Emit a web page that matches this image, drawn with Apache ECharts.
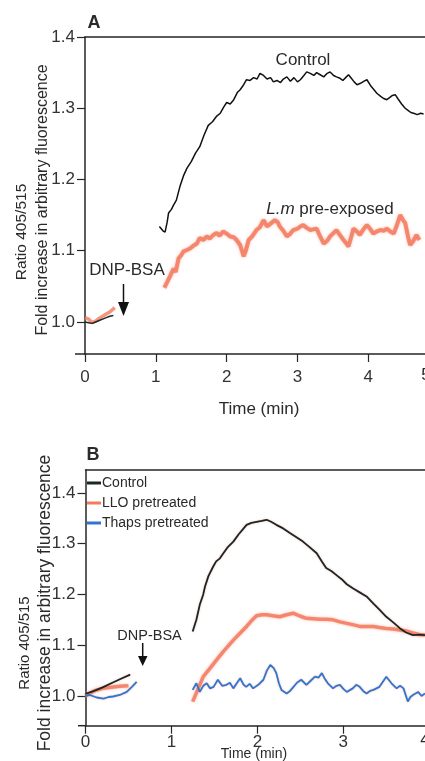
<!DOCTYPE html>
<html>
<head>
<meta charset="utf-8">
<script src="https://cdn.jsdelivr.net/npm/echarts@6/dist/echarts.min.js"></script>
<style>html,body{margin:0;padding:0;background:#fff}#c{width:425px;height:761px}</style>
</head>
<body>
<div id="c"></div>
<script>
// ---------- Panel A data ([time (min), ratio]) ----------
const aTicksY = [1.0, 1.1, 1.2, 1.3, 1.4];
const aControlEarly = [[0,1.0],[0.05,0.999],[0.1,0.998],[0.15,1.0],[0.2,1.002],[0.25,1.004],[0.3,1.006],[0.35,1.008],[0.4,1.009]];
const aLmEarly = [[0,1.006],[0.05,1.004],[0.1,0.999],[0.15,1.001],[0.2,1.005],[0.25,1.008],[0.3,1.011],[0.35,1.014],[0.42,1.02]];
const aControl = [[1.05,1.134],[1.1,1.128],[1.13,1.126],[1.16,1.14],[1.18,1.153],[1.22,1.158],[1.25,1.164],[1.29,1.171],[1.34,1.19],[1.39,1.205],[1.44,1.216],[1.5,1.225],[1.56,1.237],[1.62,1.246],[1.68,1.262],[1.74,1.276],[1.8,1.281],[1.86,1.289],[1.91,1.293],[1.96,1.302],[2.0,1.308],[2.05,1.306],[2.1,1.312],[2.15,1.322],[2.19,1.326],[2.24,1.333],[2.28,1.34],[2.33,1.339],[2.38,1.343],[2.43,1.341],[2.47,1.349],[2.52,1.346],[2.57,1.341],[2.62,1.343],[2.66,1.337],[2.71,1.339],[2.76,1.336],[2.8,1.341],[2.85,1.344],[2.9,1.338],[2.95,1.343],[3.0,1.337],[3.04,1.34],[3.09,1.346],[3.13,1.351],[3.18,1.349],[3.23,1.346],[3.27,1.35],[3.32,1.347],[3.37,1.344],[3.42,1.349],[3.46,1.351],[3.51,1.346],[3.55,1.344],[3.6,1.342],[3.64,1.339],[3.68,1.343],[3.72,1.347],[3.76,1.342],[3.8,1.337],[3.84,1.333],[3.89,1.335],[3.94,1.338],[3.98,1.34],[4.03,1.332],[4.08,1.326],[4.12,1.321],[4.17,1.317],[4.21,1.314],[4.26,1.312],[4.3,1.315],[4.34,1.318],[4.38,1.319],[4.42,1.313],[4.47,1.306],[4.52,1.3],[4.56,1.297],[4.6,1.294],[4.64,1.293],[4.69,1.291],[4.74,1.293],[4.78,1.292]];
const aLm = [[1.12,1.048],[1.16,1.056],[1.2,1.064],[1.25,1.075],[1.28,1.07],[1.32,1.089],[1.36,1.094],[1.39,1.099],[1.44,1.101],[1.48,1.103],[1.53,1.107],[1.58,1.11],[1.62,1.118],[1.67,1.115],[1.72,1.12],[1.76,1.117],[1.81,1.122],[1.86,1.125],[1.9,1.121],[1.95,1.127],[2.0,1.124],[2.05,1.12],[2.1,1.119],[2.14,1.115],[2.19,1.108],[2.24,1.092],[2.27,1.1],[2.31,1.115],[2.36,1.12],[2.42,1.129],[2.47,1.133],[2.52,1.143],[2.57,1.134],[2.62,1.138],[2.68,1.143],[2.72,1.14],[2.75,1.134],[2.8,1.128],[2.85,1.12],[2.9,1.124],[2.94,1.129],[3.0,1.131],[3.04,1.134],[3.08,1.136],[3.13,1.132],[3.18,1.129],[3.22,1.13],[3.27,1.131],[3.32,1.12],[3.37,1.11],[3.42,1.114],[3.46,1.12],[3.5,1.124],[3.55,1.129],[3.6,1.122],[3.65,1.115],[3.69,1.11],[3.72,1.106],[3.76,1.12],[3.79,1.131],[3.84,1.127],[3.88,1.122],[3.93,1.13],[3.98,1.136],[4.03,1.13],[4.07,1.124],[4.12,1.127],[4.17,1.129],[4.22,1.128],[4.26,1.131],[4.31,1.127],[4.36,1.124],[4.4,1.135],[4.45,1.15],[4.49,1.143],[4.52,1.139],[4.56,1.12],[4.59,1.108],[4.63,1.113],[4.68,1.122],[4.72,1.115]];

// ---------- Panel B data ----------
const bTicksY = [1.0, 1.1, 1.2, 1.3, 1.4];
const bNames = ['Control', 'LLO pretreated', 'Thaps pretreated'];
const bControlEarly = [[0,1.004],[0.1,1.01],[0.2,1.017],[0.3,1.025],[0.4,1.033],[0.52,1.042]];
const bControl = [[1.247,1.127],[1.29,1.15],[1.33,1.18],[1.37,1.2],[1.39,1.215],[1.43,1.236],[1.486,1.255],[1.52,1.265],[1.564,1.271],[1.6,1.28],[1.65,1.292],[1.72,1.304],[1.78,1.318],[1.83,1.328],[1.874,1.337],[1.93,1.341],[1.99,1.343],[2.05,1.345],[2.107,1.347],[2.16,1.343],[2.22,1.337],[2.3,1.33],[2.378,1.321],[2.45,1.313],[2.53,1.304],[2.6,1.294],[2.69,1.281],[2.75,1.265],[2.8,1.252],[2.86,1.246],[2.92,1.238],[2.98,1.23],[3.04,1.22],[3.11,1.212],[3.19,1.204],[3.27,1.196],[3.35,1.182],[3.42,1.17],[3.5,1.156],[3.58,1.145],[3.66,1.133],[3.73,1.125],[3.81,1.12],[3.88,1.121],[3.95,1.12]];
const bLloEarly = [[0,1.0],[0.1,1.01],[0.2,1.015],[0.3,1.017],[0.4,1.019],[0.5,1.02]];
const bLlo = [[1.247,0.989],[1.3,1.01],[1.37,1.038],[1.45,1.055],[1.525,1.071],[1.6,1.087],[1.72,1.11],[1.8,1.124],[1.874,1.137],[1.93,1.148],[1.99,1.158],[2.05,1.16],[2.107,1.16],[2.18,1.158],[2.26,1.156],[2.34,1.16],[2.416,1.163],[2.5,1.157],[2.57,1.153],[2.65,1.152],[2.73,1.151],[2.8,1.151],[2.88,1.15],[2.96,1.146],[3.04,1.143],[3.12,1.14],[3.19,1.137],[3.27,1.137],[3.35,1.137],[3.42,1.135],[3.5,1.133],[3.58,1.132],[3.66,1.13],[3.73,1.128],[3.81,1.124],[3.88,1.121],[3.95,1.12]];
const bThapsEarly = [[0,1.0],[0.05,1.002],[0.13,0.997],[0.21,0.995],[0.27,0.998],[0.32,0.999],[0.4,1.002],[0.48,1.008],[0.54,1.018],[0.595,1.028]];
const bThaps = [[1.247,1.012],[1.29,1.025],[1.33,1.008],[1.37,1.02],[1.41,1.025],[1.45,1.015],[1.49,1.018],[1.54,1.032],[1.59,1.02],[1.64,1.022],[1.68,1.026],[1.72,1.015],[1.76,1.025],[1.8,1.035],[1.84,1.022],[1.87,1.018],[1.91,1.024],[1.95,1.015],[2.01,1.022],[2.07,1.032],[2.11,1.05],[2.15,1.061],[2.19,1.055],[2.22,1.045],[2.25,1.025],[2.28,1.012],[2.34,1.005],[2.38,1.01],[2.42,1.018],[2.46,1.026],[2.51,1.032],[2.57,1.022],[2.62,1.03],[2.67,1.038],[2.71,1.036],[2.75,1.045],[2.78,1.035],[2.82,1.025],[2.88,1.015],[2.92,1.02],[2.96,1.022],[3.0,1.014],[3.04,1.008],[3.08,1.012],[3.11,1.015],[3.15,1.022],[3.19,1.018],[3.23,1.01],[3.27,1.005],[3.31,1.01],[3.35,1.012],[3.42,1.018],[3.46,1.028],[3.5,1.038],[3.56,1.025],[3.62,1.015],[3.66,1.02],[3.7,1.015],[3.75,0.989],[3.78,0.998],[3.81,1.002],[3.87,1.008],[3.91,1.0],[3.95,1.005]];

function withGap(early, main) { return early.concat([[ (early[early.length-1][0] + main[0][0]) / 2, null ]], main); }

const FONT = 'Liberation Sans, Arial, sans-serif';
const INK = '#262626';
const CTRL = '#1b2626';
const RED = '#f27a5e';
const BLUE = '#2f76d2';

const chart = echarts.init(document.getElementById('c'), null, { renderer: 'canvas' });

function yAxisCfg(gridIndex, min, max, ticks) {
  return {
    type: 'value', gridIndex, min, max,
    axisLine: { show: true, lineStyle: { color: INK, width: 1.5 } },
    axisTick: { show: true, length: 8, customValues: ticks, lineStyle: { color: INK, width: 1.2 } },
    axisLabel: { customValues: ticks, margin: 10, fontSize: 17, color: '#333', fontFamily: FONT, formatter: v => v.toFixed(1) },
    splitLine: { show: false }
  };
}
function xAxisCfg(gridIndex, max, margin) {
  return {
    type: 'value', gridIndex, min: 0, max, interval: 1,
    axisLine: { show: true, onZero: false, lineStyle: { color: INK, width: 1.5 } },
    axisTick: { show: true, length: 8, lineStyle: { color: INK, width: 1.2 } },
    axisLabel: { margin, fontSize: 17, color: '#333', fontFamily: FONT, showMaxLabel: false },
    splitLine: { show: false }
  };
}
function topAxisCfg(gridIndex, max) {
  return {
    type: 'value', gridIndex, position: 'top', min: 0, max,
    axisLine: { show: true, onZero: false, lineStyle: { color: INK, width: 1.5 } },
    axisTick: { show: false }, axisLabel: { show: false }, splitLine: { show: false }
  };
}
function txt(x, y, text, size, opts) {
  return Object.assign({ type: 'text', x, y, silent: true,
    style: Object.assign({ text, fontSize: size, fontFamily: FONT, fill: '#2a2a2a', align: 'center', verticalAlign: 'middle' }, (opts && opts.style) || {}) },
    opts && opts.rotation !== undefined ? { rotation: opts.rotation } : {});
}
const R = Math.PI / 2;

const option = {
  backgroundColor: '#ffffff',
  animation: false,
  textStyle: { fontFamily: FONT },
  grid: [
    { left: 85, top: 37, right: 0, height: 317 },
    { left: 85.5, top: 470, right: 0, height: 255.7 }
  ],
  xAxis: [xAxisCfg(0, 4.8, 15), xAxisCfg(1, 3.95, 8), topAxisCfg(0, 4.8), topAxisCfg(1, 3.95)],
  yAxis: [yAxisCfg(0, 0.955, 1.4, aTicksY), yAxisCfg(1, 0.9415, 1.445, bTicksY)],
  legend: {
    data: bNames, orient: 'vertical', left: 87, top: 476, padding: 0, itemGap: 6,
    icon: 'rect', itemWidth: 14, itemHeight: 3, selectedMode: false,
    textStyle: { fontSize: 14, color: '#2a2a2a', fontFamily: FONT, padding: [0, 0, 0, -4] }
  },
  series: [
    { name: 'A Lm early', type: 'line', xAxisIndex: 0, yAxisIndex: 0, data: aLmEarly, showSymbol: false, lineStyle: { color: RED, width: 3.5, opacity: 0.8 }, z: 2 },
    { name: 'A Lm', type: 'line', xAxisIndex: 0, yAxisIndex: 0, data: aLm, showSymbol: false, lineStyle: { color: RED, width: 4, opacity: 0.85, shadowColor: 'rgba(242,122,94,0.6)', shadowBlur: 3 }, z: 2 },
    { name: 'A Control early', type: 'line', xAxisIndex: 0, yAxisIndex: 0, data: aControlEarly, showSymbol: false, lineStyle: { color: CTRL, width: 1.5 }, z: 3 },
    { name: 'A Control', type: 'line', xAxisIndex: 0, yAxisIndex: 0, data: aControl, showSymbol: false, lineStyle: { color: '#111', width: 1.5 }, z: 3 },
    { name: 'LLO pretreated', type: 'line', xAxisIndex: 1, yAxisIndex: 1, data: withGap(bLloEarly, bLlo), connectNulls: false, showSymbol: false, itemStyle: { color: RED }, lineStyle: { color: RED, width: 3.5, opacity: 0.85, shadowColor: 'rgba(242,122,94,0.6)', shadowBlur: 3 }, z: 2 },
    { name: 'Control', type: 'line', xAxisIndex: 1, yAxisIndex: 1, data: withGap(bControlEarly, bControl), connectNulls: false, showSymbol: false, itemStyle: { color: CTRL }, lineStyle: { color: CTRL, width: 1.8, shadowColor: 'rgba(242,122,94,0.5)', shadowBlur: 2 }, z: 3 },
    { name: 'Thaps pretreated', type: 'line', xAxisIndex: 1, yAxisIndex: 1, data: withGap(bThapsEarly, bThaps), connectNulls: false, showSymbol: false, itemStyle: { color: BLUE }, lineStyle: { color: BLUE, width: 1.8, shadowColor: 'rgba(242,122,94,0.5)', shadowBlur: 2 }, z: 3 }
  ],
  graphic: [
    // panel letters
    txt(94, 23.5, 'A', 18, { style: { fontWeight: 'bold' } }),
    txt(93, 455.5, 'B', 18, { style: { fontWeight: 'bold' } }),
    // panel A annotations
    txt(303, 60, 'Control', 17),
    { type: 'text', x: 330, y: 209, silent: true, style: { text: '{i|L.m} pre-exposed', fontSize: 17, fontFamily: FONT, fill: '#2a2a2a', align: 'center', verticalAlign: 'middle', rich: { i: { fontStyle: 'italic', fontSize: 17, fontFamily: FONT, fill: '#2a2a2a' } } } },
    txt(127, 270, 'DNP-BSA', 17),
    { type: 'line', silent: true, shape: { x1: 123.5, y1: 284, x2: 123.5, y2: 304 }, style: { stroke: '#111', lineWidth: 1.5 } },
    { type: 'polygon', silent: true, shape: { points: [[118, 302], [129, 302], [123.5, 316]] }, style: { fill: '#111' } },
    // panel A axis titles
    txt(22, 232, 'Ratio 405/515', 15.5, { rotation: R }),
    txt(43, 200, 'Fold increase in arbitrary fluorescence', 16, { rotation: R }),
    txt(259, 409, 'Time (min)', 17),
    txt(426, 375, '5', 17),
    { type: 'line', silent: true, shape: { x1: 75, y1: 354, x2: 85, y2: 354 }, style: { stroke: INK, lineWidth: 1.5 } },
    // panel B annotations
    txt(149.5, 636, 'DNP-BSA', 14.5),
    { type: 'line', silent: true, shape: { x1: 142.7, y1: 643, x2: 142.7, y2: 658 }, style: { stroke: '#111', lineWidth: 1.5 } },
    { type: 'polygon', silent: true, shape: { points: [[138, 656], [147.5, 656], [142.7, 666]] }, style: { fill: '#111' } },
    txt(25, 643, 'Ratio 405/515', 15, { rotation: R }),
    txt(45, 603, 'Fold increase in arbitrary fluorescence', 17.5, { rotation: R }),
    txt(254, 754, 'Time (min)', 14),
    txt(425, 740, '4', 17),
    { type: 'line', silent: true, shape: { x1: 78, y1: 725.7, x2: 85.5, y2: 725.7 }, style: { stroke: INK, lineWidth: 1.5 } }
  ]
};
chart.setOption(option);
</script>
</body>
</html>
